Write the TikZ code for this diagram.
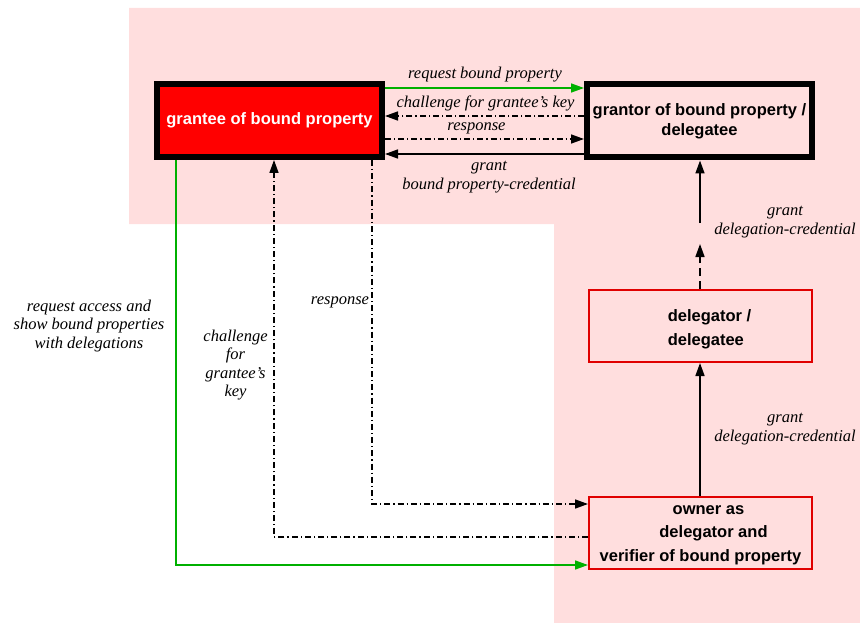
\documentclass[tikz,border=0pt]{standalone}
\usepackage{fontspec}
\setmainfont{Liberation Serif}
\setsansfont{Liberation Sans}
\usetikzlibrary{arrows.meta}
\definecolor{zonepink}{RGB}{255,222,222}
\definecolor{flowgreen}{RGB}{0,176,0}
\definecolor{boxred}{RGB}{224,0,0}
\begin{document}
\begin{tikzpicture}[x=1pt,y=-1pt,
  tip/.style={-{Triangle[length=13pt,width=9pt]}},
  flow/.style={line width=1.6pt, tip},
  dashdot/.style={dash pattern=on 6pt off 3pt on 1.2pt off 3pt},
  lbl/.style={font=\fontsize{16.5}{18.5}\selectfont\itshape, align=center, inner sep=0pt},
  boxtext/.style={font=\fontsize{16.5}{24}\selectfont\sffamily\bfseries},
  heavybox/.style={draw=black, line width=6pt, minimum width=225pt, minimum height=73pt, align=center, inner sep=0pt},
  lightbox/.style={draw=boxred, line width=2pt, fill=zonepink, minimum width=223pt, minimum height=72pt, inner sep=0pt}
]
\useasboundingbox (0,0) rectangle (860,623);
% shaded zone
\fill[zonepink] (129,8) -- (860,8) -- (860,623) -- (554,623) -- (554,224) -- (129,224) -- cycle;

% principal boxes
\node[heavybox, fill=red, text=white, boxtext] (grantee) at (269.5,120.5) {grantee of bound property};
\node[heavybox, fill=zonepink, font=\fontsize{16.5}{20}\selectfont\sffamily\bfseries] (grantor) at (699.5,121) {grantor of bound property /\\delegatee};
\node[lightbox] (delegator) at (700.5,326) {};
\node[boxtext, align=left, inner sep=0pt] (delegatortext) at (709.5,329) {delegator /\\delegatee};
\node[lightbox] (owner) at (700.5,533) {};
\node[align=center, inner sep=0pt, font=\fontsize{16.5}{23.5}\selectfont\sffamily\bfseries] (ownertext) at (700.5,535) {\hspace*{16pt}owner as\\\hspace*{26pt}delegator and\\verifier of bound property};

% rows between grantee and grantor
\coordinate (rowreq) at (0,88);
\coordinate (rowchal) at (0,116);
\coordinate (rowresp) at (0,139);
\coordinate (rowgrant) at (0,154);
\draw[flow, flowgreen] (grantee.east |- rowreq) -- (grantor.west |- rowreq);
\draw[flow, dashdot] (grantor.west |- rowchal) -- (grantee.east |- rowchal);
\draw[flow, dashdot] (grantee.east |- rowresp) -- (grantor.west |- rowresp);
\draw[flow] (grantor.west |- rowgrant) -- (grantee.east |- rowgrant);

\node[lbl] (lreq) at (485,75) {request bound property};
\node[lbl] (lchal) at (485.5,103) {challenge for grantee's key};
\node[lbl] (lresp) at (476.5,128) {response};
\node[lbl] (lgrant) at (489,177) {grant\\bound property-credential};

% delegation chain
\coordinate (chainend) at (700,223);
\coordinate (chaintip) at (700,244);
\draw[flow] (chainend) -- (chainend |- grantor.south);
\draw[flow, dash pattern=on 8pt off 5pt] (chaintip |- delegator.north) -- (chaintip);
\draw[flow] (chainend |- owner.north) -- (chainend |- delegator.south);
\node[lbl] (ldelup) at (785,222) {grant\\delegation-credential};
\node[lbl] (ldeldown) at (785,429) {grant\\delegation-credential};

% access request and verification
\coordinate (greencorner) at (176,565);
\coordinate (chalcorner) at (274,537);
\coordinate (respcorner) at (372,504);
\draw[flow, flowgreen] (grantee.south -| greencorner) -- (greencorner) -- (greencorner -| owner.west);
\draw[flow, dashdot] (chalcorner -| owner.west) -- (chalcorner) -- (chalcorner |- grantee.south);
\draw[flow, dashdot] (respcorner |- grantee.south) -- (respcorner) -- (respcorner -| owner.west);

\node[lbl] (laccess) at (89,326) {request access and\\show bound properties\\with delegations};
\node[lbl] (lchalv) at (235.5,365) {challenge\\for\\grantee's\\key};
\node[lbl] (lrespv) at (340,302) {response};
\end{tikzpicture}
\end{document}
